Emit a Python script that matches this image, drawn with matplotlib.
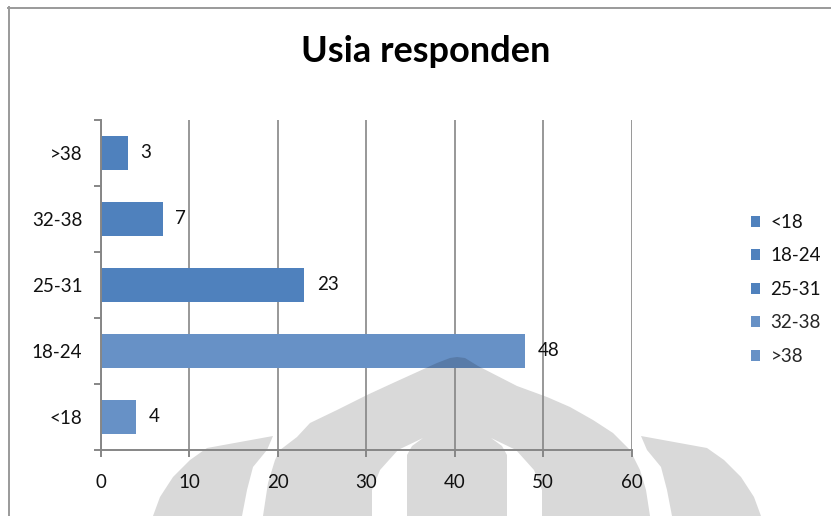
import matplotlib
matplotlib.use("Agg")
import matplotlib.pyplot as plt
from matplotlib.patches import Polygon, Patch
from matplotlib.lines import Line2D
import numpy as np

plt.rcParams['font.family'] = ['Lato', 'DejaVu Sans']

# Data
title = "Usia responden"
categories = ["<18", "18-24", "25-31", "32-38", ">38"]
counts = [4, 48, 23, 7, 3]
x_ticks = [0, 10, 20, 30, 40, 50, 60]

dark_blue = "#4F81BD"
light_blue = "#6791C6"
bar_colors = [light_blue, light_blue, dark_blue, dark_blue, dark_blue]
legend_colors = [dark_blue, dark_blue, dark_blue, light_blue, light_blue]
legend_text_colors = ["#111111", "#111111", "#111111", "#262626", "#262626"]

axis_gray = "#868686"
text_col = "#111111"
fs = 13.5

W, H = 831, 516
fig = plt.figure(figsize=(W / 100, H / 100), dpi=100)
fig.patch.set_facecolor("white")

# Background layer in pixel units (frame and watermark emblem)
bg = fig.add_axes([0, 0, 1, 1], zorder=0)
bg.set_xlim(0, W)
bg.set_ylim(H, 0)
bg.axis("off")

wm_color = "#D9D9D9"
dome = [(263, 516), (268, 483), (275, 460), (280, 450), (297, 437), (310, 423),
        (337, 410), (367, 395), (393, 383), (437, 363), (450, 358), (457, 357),
        (465, 358), (478, 366), (517, 386), (547, 397), (570, 407), (593, 420),
        (613, 433), (630, 450), (640, 470), (646, 490), (650, 516)]
left_gap = [(372, 516), (372, 490), (380, 470), (398, 450), (423, 438),
            (412, 446), (407, 455), (407, 516)]
right_gap = [(542, 516), (542, 490), (534, 470), (516, 450), (491, 438),
             (502, 446), (507, 455), (507, 516)]
left_petal = [(153, 516), (160, 497), (173, 477), (190, 460), (207, 448),
              (240, 442), (273, 436), (267, 450), (253, 467), (247, 490), (242, 516)]
right_petal = [(761, 516), (754, 497), (741, 477), (724, 460), (707, 448),
               (674, 442), (641, 436), (647, 450), (661, 467), (667, 490), (672, 516)]

bg.add_patch(Polygon(dome, closed=True, facecolor=wm_color, edgecolor="none"))
bg.add_patch(Polygon(left_gap, closed=True, facecolor="white", edgecolor="none"))
bg.add_patch(Polygon(right_gap, closed=True, facecolor="white", edgecolor="none"))
bg.add_patch(Polygon(left_petal, closed=True, facecolor=wm_color, edgecolor="none"))
bg.add_patch(Polygon(right_petal, closed=True, facecolor=wm_color, edgecolor="none"))

# Chart frame (top and left edges)
frame_col = "#9a9a9a"
bg.add_line(Line2D([8, W], [7.5, 7.5], color=frame_col, lw=1.4))
bg.add_line(Line2D([8.5, 8.5], [7, H], color=frame_col, lw=1.4))

# Main plot area
ax = fig.add_axes([101 / W, (H - 450) / H, 530.5 / W, 330 / H], zorder=1)
ax.set_facecolor("none")

y = np.arange(len(categories))
bars = ax.barh(y, counts, height=0.52, color=bar_colors, zorder=2)

ax.set_xlim(0, 60)
ax.set_ylim(-0.5, len(categories) - 0.5)
ax.set_xticks(x_ticks)
ax.set_xticklabels([str(t) for t in x_ticks])
ax.set_yticks(y)
ax.set_yticklabels(categories)
ax.set_yticks(np.arange(-0.5, len(categories), 1.0), minor=True)

ax.set_axisbelow(True)
ax.grid(axis="x", color=axis_gray, lw=1.2)
ax.grid(axis="y", visible=False)

for s in ["top", "right"]:
    ax.spines[s].set_visible(False)
for s in ["left", "bottom"]:
    ax.spines[s].set_color(axis_gray)
    ax.spines[s].set_linewidth(1.4)

ax.tick_params(axis="x", which="major", length=5, width=1.4, color=axis_gray,
               labelsize=fs, labelcolor=text_col, pad=12)
ax.tick_params(axis="y", which="major", length=0, labelsize=fs,
               labelcolor=text_col, pad=13.5)
ax.tick_params(axis="y", which="minor", length=5, width=1.4, color=axis_gray)

# Value labels
ax.bar_label(bars, labels=[str(v) for v in counts], padding=9,
             fontsize=fs, color=text_col)

# Watermark showing through the long bar (darker overlap)
for rect in bars:
    tip = Polygon(dome, closed=True, facecolor="#587BA8", edgecolor="none",
                  transform=bg.transData, zorder=2.5)
    ax.add_artist(tip)
    tip.set_clip_path(rect)

# Title
fig.text(426 / W, 1 - 51 / H, title, ha="center", va="center",
         fontsize=26, fontweight="bold", color="black")

# Legend
handles = [Patch(facecolor=c, edgecolor="none") for c in legend_colors]
fig.legend(handles, categories, loc="upper left",
           bbox_to_anchor=(734 / W, 1 - 197 / H), frameon=False,
           fontsize=fs, handlelength=0.5, handleheight=0.5,
           handletextpad=0.55, labelspacing=0.88, labelcolor=legend_text_colors)

fig.savefig("out.png", dpi=100)
